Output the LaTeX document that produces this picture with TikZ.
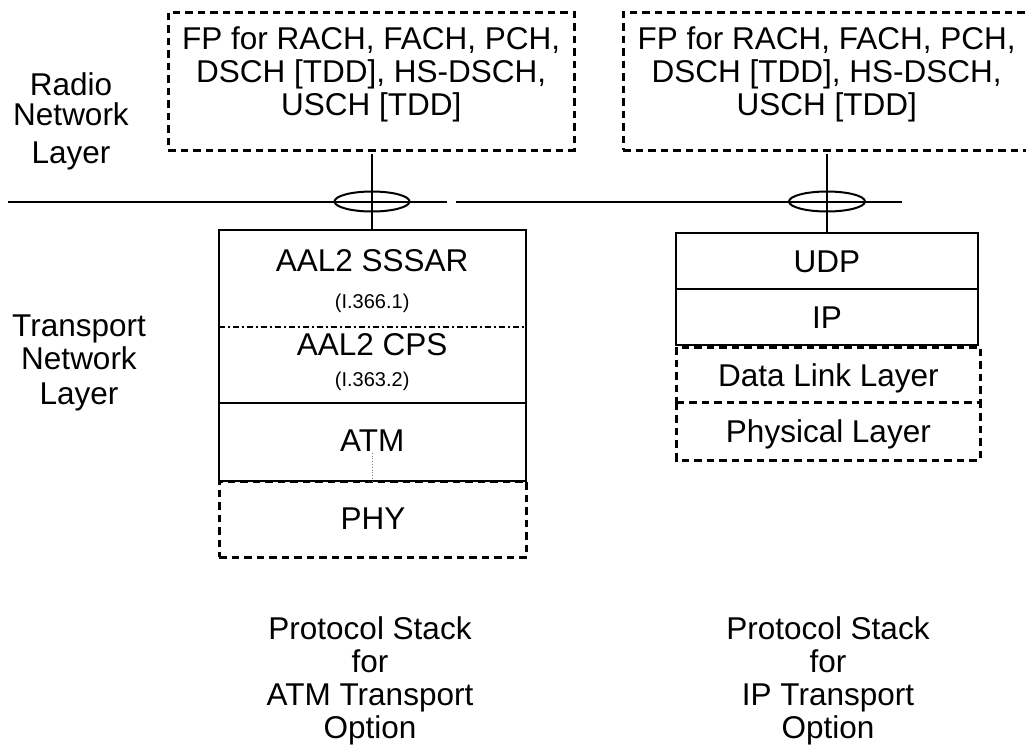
\documentclass[tikz,border=0pt]{standalone}
\usepackage{fontspec}
\setmainfont{Liberation Sans}
\usetikzlibrary{shapes.geometric}
\begin{document}
\begin{tikzpicture}[x=1pt,y=-1pt,
  txt/.style={font=\fontsize{31.5}{33}\selectfont, inner sep=0pt, anchor=base},
  smalltxt/.style={font=\fontsize{20}{22}\selectfont, inner sep=0pt, anchor=base},
  solidbox/.style={draw, line width=2pt, inner sep=0pt, outer sep=0pt},
  dashline/.style={line width=3pt, dash pattern=on 7.5pt off 5pt},
  dashbox/.style={draw, dashline, inner sep=0pt, outer sep=0pt},
  conn/.style={line width=2pt},
  ring/.style={draw, ellipse, line width=2pt, inner sep=0pt}]
\useasboundingbox (0,0) rectangle (1026,753);

% FP boxes
\node[dashbox, minimum width=405.7pt, minimum height=138pt] (fpL) at (371.2,81) {};
\node[dashbox, minimum width=406.7pt, minimum height=138pt] (fpR) at (826.7,81) {};
\node[txt] (fpL1) at (371.2,49) {FP for RACH, FACH, PCH,};
\node[txt] (fpL2) at (371.2,82) {DSCH [TDD], HS-DSCH,};
\node[txt] (fpL3) at (371.2,115) {USCH [TDD]};
\node[txt] (fpR1) at (826.7,49) {FP for RACH, FACH, PCH,};
\node[txt] (fpR2) at (826.7,82) {DSCH [TDD], HS-DSCH,};
\node[txt] (fpR3) at (826.7,115) {USCH [TDD]};

% layer labels
\node[txt] (rn1) at (71,95) {Radio};
\node[txt] (rn2) at (71,125) {Network};
\node[txt] (rn3) at (71,163) {Layer};
\node[txt] (tn1) at (79,336) {Transport};
\node[txt] (tn2) at (79,369) {Network};
\node[txt] (tn3) at (79,404) {Layer};

% ATM stack
\node[solidbox, minimum width=307pt, minimum height=251pt] (stackL) at (372.2,355.5) {};
\draw[line width=2pt, dash pattern=on 6pt off 3pt on 2pt off 3pt] (218.7,327.3) -- (525.7,327.3);
\draw[line width=2pt] (218.7,403.3) -- (525.7,403.3);
\node[dashbox, minimum width=307.7pt, minimum height=76pt] (phyL) at (372.9,519) {};
\node[txt] (aal1) at (372.2,271.7) {AAL2 SSSAR};
\node[smalltxt] (aal1r) at (372.2,308) {(I.366.1)};
\node[txt] (aal2) at (372.2,355) {AAL2 CPS};
\node[smalltxt] (aal2r) at (372.2,386) {(I.363.2)};
\node[txt] (atm) at (372.2,451.7) {ATM};
\node[txt] (phy) at (372.9,529) {PHY};
\coordinate (dA) at (372,452.7);
\coordinate (dB) at (372,481);
\draw[gray, dotted, line width=0.8pt] (dA) -- (dB);

% IP stack
\node[solidbox, minimum width=301.7pt, minimum height=56.6pt] (udp) at (826.9,261) {};
\node[solidbox, minimum width=301.7pt, minimum height=55.7pt] (ip) at (826.9,317.15) {};
\node[dashbox, minimum width=303.3pt, minimum height=55.7pt] (dll) at (828.4,374.85) {};
\node[inner sep=0pt, outer sep=0pt, minimum width=303.3pt, minimum height=57.3pt] (phys) at (828.4,431.35) {};
\draw[dashline] (phys.north west) -- (phys.south west) -- (phys.south east) -- (phys.north east);
\node[txt] (udpt) at (826.9,272.3) {UDP};
\node[txt] (ipt) at (826.9,328.4) {IP};
\node[txt] (dllt) at (828.4,386) {Data Link Layer};
\node[txt] (physt) at (828.4,442.5) {Physical Layer};

% interface line and rings
\coordinate (h0) at (8,201.5);
\coordinate (h1) at (447,201.5);
\coordinate (h2) at (456,201.5);
\coordinate (h3) at (902,201.5);
\draw[conn] (h0) -- (h1);
\draw[conn] (h2) -- (h3);
\node[ring, minimum width=75pt, minimum height=20pt] (elL) at (372,201.5) {};
\node[ring, minimum width=76pt, minimum height=20pt] (elR) at (827,201.5) {};
\coordinate (tL) at (372.2,154);
\coordinate (tR) at (826.9,154);
\draw[conn] (tL) -- (stackL.north);
\draw[conn] (tR) -- (udp.north);

% captions
\node[txt] (cl1) at (370,639) {Protocol Stack};
\node[txt] (cl2) at (370,672) {for};
\node[txt] (cl3) at (370,705) {ATM Transport};
\node[txt] (cl4) at (370,738) {Option};
\node[txt] (cr1) at (828,639) {Protocol Stack};
\node[txt] (cr2) at (828,672) {for};
\node[txt] (cr3) at (828,705) {IP Transport};
\node[txt] (cr4) at (828,738) {Option};
\end{tikzpicture}
\end{document}
